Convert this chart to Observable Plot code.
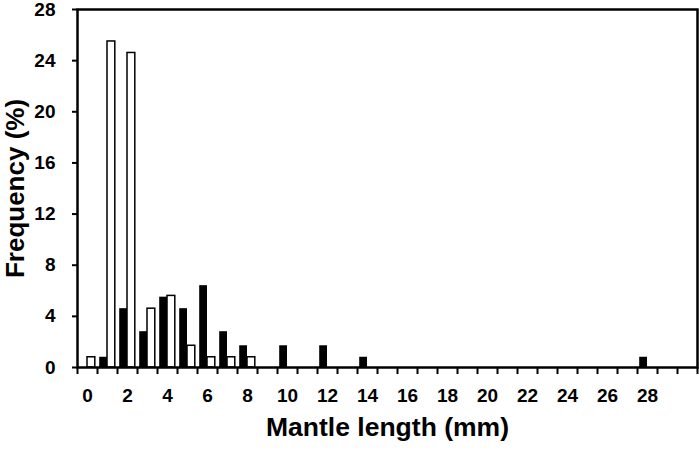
<!DOCTYPE html>
<html><head><meta charset="utf-8">
<script src="https://cdn.jsdelivr.net/npm/d3@7"></script>
<script src="https://cdn.jsdelivr.net/npm/@observablehq/plot@0.6"></script>
<style>body{margin:0;background:#fff;}</style>
</head><body><div id="chart"></div>
<script>
// Mantle length classes (mm)
const sizeClasses = [0,1,2,3,4,5,6,7,8,9,10,11,12,13,14,15,16,17,18,19,20,21,22,23,24,25,26,27,28,29,30];
// Frequency (%) – open bars
const whiteValues = [0.8,25.5,24.6,4.6,5.6,1.7,0.8,0.8,0.8,0,0,0,0,0,0,0,0,0,0,0,0,0,0,0,0,0,0,0,0,0,0];
// Frequency (%) – filled bars
const blackValues = [0,0.8,4.6,2.8,5.5,4.6,6.4,2.8,1.7,0,1.7,0,1.7,0,0.8,0,0,0,0,0,0,0,0,0,0,0,0,0,0.8,0,0];
const xTickLabels = [0,2,4,6,8,10,12,14,16,18,20,22,24,26,28];
const yTickLabels = [0,4,8,12,16,20,24,28];
const xTitle = "Mantle length (mm)";
const yTitle = "Frequency (%)";

const white = sizeClasses.map((c,i)=>({cls:c, v:whiteValues[i]})).filter(d=>d.v>0);
const black = sizeClasses.map((c,i)=>({cls:c, v:blackValues[i]})).filter(d=>d.v>0);
const boundaries = sizeClasses.map(c=>c-0.5).concat([sizeClasses[sizeClasses.length-1]+0.5]);
const half = 0.39;

const chart = Plot.plot({
  width: 699,
  height: 450,
  marginLeft: 77,
  marginRight: 2,
  marginTop: 9,
  marginBottom: 83,
  style: {fontFamily: "'Liberation Sans', Arial, sans-serif", fontWeight: "bold", color: "black", background: "white"},
  x: {domain: [boundaries[0], boundaries[boundaries.length-1]], label: null},
  y: {domain: [0, 28], label: null},
  marks: [
    Plot.rect(black, {x1: d=>d.cls-half, x2: d=>d.cls, y1: 0, y2: "v", fill: "black"}),
    Plot.rect(white, {x1: d=>d.cls, x2: d=>d.cls+half, y1: 0, y2: "v", fill: "white", stroke: "black", strokeWidth: 1.5}),
    Plot.axisX({ticks: boundaries, tickSize: 7, tickFormat: () => "", strokeWidth: 2, label: null}),
    Plot.axisX({ticks: xTickLabels, tickSize: 0, tickPadding: 21, fontSize: 19, fontWeight: "bold", tickFormat: d => String(d), label: null}),
    Plot.axisY({ticks: yTickLabels, tickSize: 5, tickPadding: 17, fontSize: 19, fontWeight: "bold", strokeWidth: 2, label: null}),
    Plot.frame({stroke: "black", strokeWidth: 2.5}),
    Plot.text([xTitle], {frameAnchor: "bottom", textAnchor: "middle", dy: 68, fontSize: 26.5, fontWeight: "bold"}),
    Plot.text([yTitle], {frameAnchor: "left", textAnchor: "middle", dx: -62, rotate: -90, fontSize: 26, fontWeight: "bold"})
  ]
});
document.getElementById("chart").appendChild(chart);
</script>
</body></html>
